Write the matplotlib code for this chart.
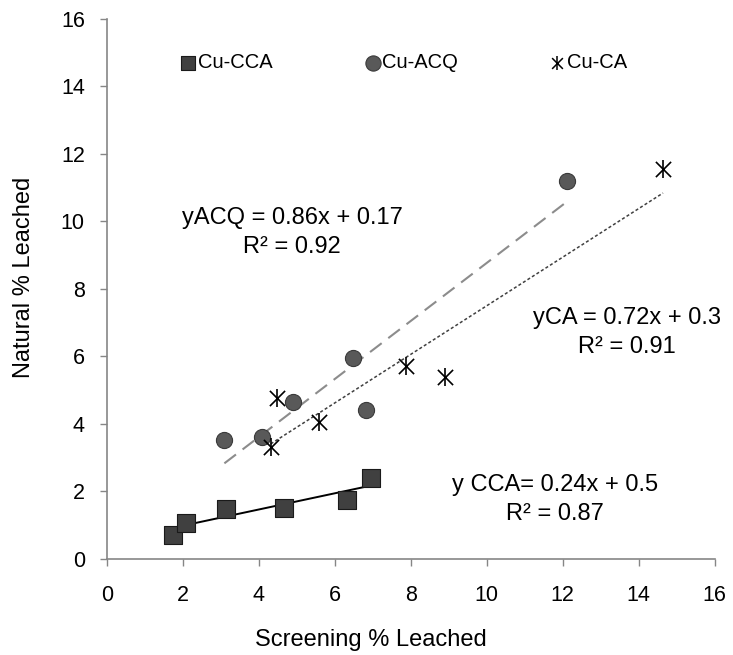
import numpy as np
import matplotlib
matplotlib.use("Agg")
import matplotlib.pyplot as plt

plt.rcParams['font.family'] = ['Liberation Sans', 'DejaVu Sans']

# data
cca_x = [1.75, 2.07, 3.13, 4.65, 6.32, 6.95]
cca_y = [0.70, 1.06, 1.47, 1.49, 1.74, 2.38]
acq_x = [3.09, 4.09, 4.90, 6.47, 6.82, 12.1]
acq_y = [3.52, 3.61, 4.65, 5.96, 4.41, 11.2]
ca_x = [4.31, 4.47, 5.59, 7.86, 8.89, 14.64]
ca_y = [3.30, 4.76, 4.04, 5.70, 5.39, 11.56]

# trendline equations (slope, intercept)
cca_fit = (0.24, 0.5)
acq_fit = (0.86, 0.17)
ca_fit = (0.72, 0.3)

fig = plt.figure(figsize=(7.33, 6.55), dpi=100)
ax = fig.add_axes([0.146, 0.147, 0.829, 0.824])

axis_grey = '#868686'

# trendlines
def trend(xs, fit):
    xx = np.array([min(xs), max(xs)])
    return xx, fit[0] * xx + fit[1]

xx, yy = trend(cca_x, cca_fit)
ax.plot(xx, yy, color='black', lw=1.4, zorder=2)
xx, yy = trend(acq_x, acq_fit)
ax.plot(xx, yy, color='#8c8c8c', lw=1.5, dashes=(7, 4), zorder=2)
xx, yy = trend(ca_x, ca_fit)
ax.plot(xx, yy, color='#404040', lw=1.1, dashes=(2, 1.5), zorder=2)

# markers
ax.scatter(cca_x, cca_y, marker='s', s=150, color='#404040',
           edgecolors='#1a1a1a', linewidths=0.8, zorder=3)
ax.scatter(acq_x, acq_y, marker='o', s=135, color='#595959',
           edgecolors='#3a3a3a', linewidths=0.8, zorder=3)
ax.scatter(ca_x, ca_y, marker='x', s=120, color='black', linewidths=1.2, zorder=3)
ax.scatter(ca_x, ca_y, marker='|', s=170, color='black', linewidths=1.2, zorder=3)

# legend built by hand in data coordinates
leg_y = 14.7
ax.scatter([2.13], [leg_y], marker='s', s=110, color='#404040',
           edgecolors='#1a1a1a', linewidths=0.8, clip_on=False)
ax.text(2.4, leg_y, 'Cu-CCA', fontsize=14.5, va='center', ha='left')
ax.scatter([7.0], [leg_y], marker='o', s=120, color='#595959',
           edgecolors='#3a3a3a', linewidths=0.8)
ax.text(7.25, leg_y, 'Cu-ACQ', fontsize=14.5, va='center', ha='left')
ax.scatter([11.84], [leg_y], marker='x', s=60, color='black', linewidths=1.1)
ax.scatter([11.84], [leg_y], marker='|', s=90, color='black', linewidths=1.1)
ax.text(12.1, leg_y, 'Cu-CA', fontsize=14.5, va='center', ha='left')

# equations
eq_size = 17
ax.text(4.88, 9.66, 'yACQ = 0.86x + 0.17\nR² = 0.92', fontsize=eq_size,
        ha='center', va='center', linespacing=1.4)
ax.text(13.68, 6.71, 'yCA = 0.72x + 0.3\nR² = 0.91', fontsize=eq_size,
        ha='center', va='center', linespacing=1.4)
ax.text(11.79, 1.75, 'y CCA= 0.24x + 0.5\nR² = 0.87', fontsize=eq_size,
        ha='center', va='center', linespacing=1.4)

ax.set_xlim(0, 16)
ax.set_ylim(0, 16)
ax.set_xticks(np.arange(0, 17, 2))
ax.set_yticks(np.arange(0, 17, 2))
ax.tick_params(axis='both', direction='out', length=5, width=1,
               color=axis_grey, labelsize=15.5)
ax.tick_params(axis='x', pad=14)
ax.tick_params(axis='y', pad=11)

for side in ['top', 'right']:
    ax.spines[side].set_visible(False)
for side in ['left', 'bottom']:
    ax.spines[side].set_color(axis_grey)
    ax.spines[side].set_linewidth(1.2)

ax.set_xlabel('Screening % Leached', fontsize=17, va='center')
ax.set_ylabel('Natural % Leached', fontsize=17, va='center', ha='center')
ax.xaxis.set_label_coords(0.435, -0.15)
ax.yaxis.set_label_coords(-0.137, 0.522)

fig.savefig('out.png', dpi=100)
